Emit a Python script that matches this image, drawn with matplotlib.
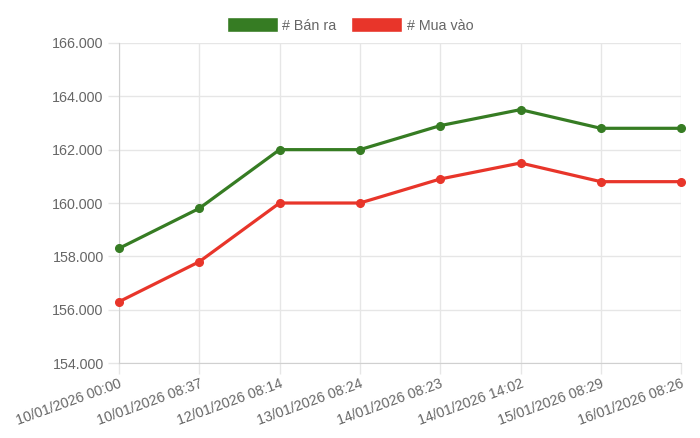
import matplotlib
matplotlib.use("Agg")
import matplotlib.pyplot as plt
from matplotlib.patches import Rectangle
from matplotlib.ticker import FuncFormatter, MultipleLocator

# du lieu
labels = ["10/01/2026 00:00", "10/01/2026 08:37", "12/01/2026 08:14", "13/01/2026 08:24",
          "14/01/2026 08:23", "14/01/2026 14:02", "15/01/2026 08:29", "16/01/2026 08:26"]
ban_ra = [158300, 159800, 162000, 162000, 162900, 163500, 162800, 162800]
mua_vao = [156300, 157800, 160000, 160000, 160900, 161500, 160800, 160800]

green = "#367c23"
red = "#e8352a"
txt = "#666666"
grid_c = "#e6e6e6"

plt.rcParams['font.family'] = ['Liberation Sans', 'DejaVu Sans']

fig = plt.figure(figsize=(7, 4.38), dpi=100)
ax = fig.add_axes([0.170, 0.171, 0.803, 0.731])

x = list(range(len(labels)))
ax.plot(x, ban_ra, color=green, lw=2.3, marker='o', ms=5.5, zorder=3, clip_on=False)
ax.plot(x, mua_vao, color=red, lw=2.3, marker='o', ms=5.5, zorder=3, clip_on=False)

ax.set_xlim(0, len(labels) - 1)
ax.set_ylim(154000, 166000)
ax.yaxis.set_major_locator(MultipleLocator(2000))
ax.yaxis.set_major_formatter(FuncFormatter(lambda v, p: f"{int(v):,}".replace(",", ".")))
ax.set_xticks(x)
ax.set_xticklabels(labels, rotation=20, ha='right', rotation_mode='anchor')

ax.grid(True, color=grid_c, lw=1)
ax.set_axisbelow(True)
for s in ax.spines.values():
    s.set_visible(False)
ax.spines['left'].set_visible(True)
ax.spines['left'].set_color("#d0d0d0")
ax.spines['bottom'].set_visible(True)
ax.spines['bottom'].set_color("#d0d0d0")
ax.tick_params(axis='both', colors=grid_c, labelcolor=txt, labelsize=10.3, length=8, width=1)
ax.tick_params(axis='y', pad=3)
ax.tick_params(axis='x', pad=2)

handles = [Rectangle((0, 0), 1, 1, fc=green, ec="white"), Rectangle((0, 0), 1, 1, fc=red, ec="white")]
fig.legend(handles, ["# Bán ra", "# Mua vào"], loc='upper center', bbox_to_anchor=(0.5, 0.99),
           ncol=2, frameon=False, handlelength=3.6, handleheight=1.25, handletextpad=0.3,
           columnspacing=1.0, fontsize=10.3, labelcolor=txt)

fig.savefig("out.png", dpi=100)
